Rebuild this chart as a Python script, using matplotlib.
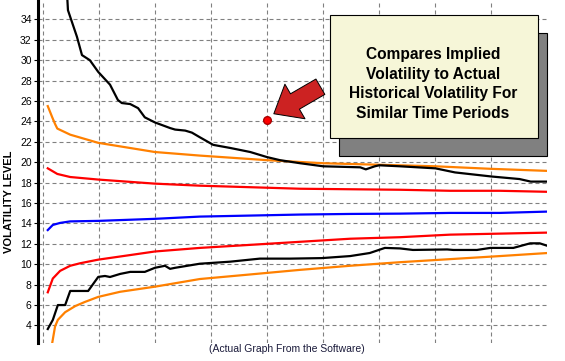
import matplotlib
matplotlib.use("Agg")
import matplotlib.pyplot as plt
from matplotlib.patches import Rectangle

# x positions are in "grid units" (one unit per vertical dashed grid line)
hv_hi_x = [0.44, 0.45, 0.61, 0.70, 0.84, 0.99, 1.20, 1.34, 1.41, 1.56, 1.70, 1.82, 2.00, 2.27, 2.36,
           2.54, 2.66, 2.80, 3.04, 3.34, 3.70, 4.00, 4.23, 4.59, 5.00, 5.66, 5.76, 5.92, 6.00, 6.37,
           7.00, 7.35, 8.00, 8.50, 8.70, 9.00]
hv_hi_y = [35.9, 34.9, 32.3, 30.5, 30.0, 28.85, 27.6, 26.1, 25.8, 25.7, 25.3, 24.4, 23.9, 23.35, 23.2,
           23.1, 22.9, 22.45, 21.7, 21.4, 21.0, 20.5, 20.2, 19.9, 19.6, 19.5, 19.3, 19.6, 19.7, 19.6,
           19.4, 19.0, 18.6, 18.35, 18.1, 18.1]

hv_lo_x = [0.09, 0.18, 0.27, 0.40, 0.49, 0.81, 0.99, 1.11, 1.20, 1.38, 1.56, 1.82, 2.00, 2.18, 2.27,
           2.36, 2.80, 3.34, 3.87, 4.41, 4.97, 5.48, 5.83, 6.10, 6.37, 6.60, 7.21, 7.32, 7.74, 7.98,
           8.39, 8.69, 8.86, 9.00]
hv_lo_y = [3.65, 4.54, 6.0, 6.0, 7.38, 7.38, 8.76, 8.85, 8.75, 9.05, 9.25, 9.25, 9.65, 9.85, 9.55,
           9.65, 10.05, 10.25, 10.55, 10.55, 10.6, 10.8, 11.1, 11.6, 11.55, 11.4, 11.45, 11.4, 11.4, 11.6,
           11.6, 12.05, 12.05, 11.8]

or_hi_x = [0.09, 0.17, 0.22, 0.26, 0.49, 0.99, 2.00, 2.80, 4.00, 5.00, 6.00, 7.00, 8.00, 9.00]
or_hi_y = [25.5, 24.4, 23.75, 23.3, 22.7, 21.9, 21.0, 20.65, 20.2, 19.9, 19.75, 19.6, 19.35, 19.15]

or_lo_x = [0.17, 0.22, 0.27, 0.40, 0.58, 0.75, 0.99, 1.38, 2.00, 2.80, 3.70, 4.59, 5.48, 6.37, 7.26,
           8.15, 9.00]
or_lo_y = [2.3, 3.9, 4.55, 5.3, 5.9, 6.3, 6.8, 7.3, 7.8, 8.55, 9.0, 9.45, 9.85, 10.2, 10.5,
           10.8, 11.1]

red_hi_x = [0.09, 0.26, 0.49, 0.99, 2.00, 2.80, 3.70, 4.59, 6.37, 7.26, 8.15, 9.00]
red_hi_y = [19.4, 18.85, 18.55, 18.3, 17.9, 17.7, 17.55, 17.4, 17.3, 17.2, 17.2, 17.1]

red_lo_x = [0.09, 0.18, 0.31, 0.49, 0.67, 0.99, 1.56, 2.00, 2.80, 3.70, 4.59, 5.48, 6.37, 7.26,
            8.15, 9.00]
red_lo_y = [7.25, 8.6, 9.35, 9.85, 10.1, 10.45, 10.9, 11.25, 11.6, 11.9, 12.2, 12.5, 12.65, 12.9,
            13.0, 13.1]

blue_x = [0.09, 0.18, 0.31, 0.49, 0.99, 2.00, 2.80, 3.70, 4.59, 5.48, 6.37, 7.26, 8.15, 9.00]
blue_y = [13.35, 13.85, 14.05, 14.2, 14.25, 14.45, 14.67, 14.77, 14.87, 14.93, 14.96, 15.03, 15.03, 15.16]

dot_x, dot_y = [4.0], [24.1]

y_ticks = list(range(4, 35, 2))
note = "Compares Implied\nVolatility to Actual\nHistorical Volatility For\nSimilar Time Periods"
caption = "(Actual Graph From the Software)"

plt.rcParams["font.family"] = ["Liberation Sans", "DejaVu Sans"]

fig = plt.figure(figsize=(5.65, 3.61), dpi=100)
ax = fig.add_axes([38 / 565, 18 / 361, 509 / 565, 343 / 361])

ax.plot(or_hi_x, or_hi_y, color="#ff8000", lw=1.6, zorder=3)
ax.plot(or_lo_x, or_lo_y, color="#ff8000", lw=1.6, zorder=3)
ax.plot(red_hi_x, red_hi_y, color="#ff0000", lw=1.6, zorder=3)
ax.plot(red_lo_x, red_lo_y, color="#ff0000", lw=1.6, zorder=3)
ax.plot(blue_x, blue_y, color="#0000ff", lw=1.6, zorder=3)
ax.plot(hv_hi_x, hv_hi_y, color="black", lw=1.6, zorder=4)
ax.plot(hv_lo_x, hv_lo_y, color="black", lw=1.6, zorder=4)

ax.plot(dot_x, dot_y, "o", color="#ff0000", mec="#aa0000", ms=5.5, zorder=5)
ax.annotate("", xy=(4.12, 24.75), xytext=(4.95, 27.4),
            arrowprops=dict(arrowstyle="simple,head_length=1.1,head_width=1.8,tail_width=0.8",
                            fc="#cc2222", ec="black", lw=0.7, mutation_scale=16,
                            shrinkA=0, shrinkB=0), zorder=6)

ax.set_xlim(-0.084, 8.99)
ax.set_ylim(2.28, 35.9)
ax.set_yticks(y_ticks)
ax.set_xticks(range(0, 9))
ax.tick_params(axis="x", length=0, labelbottom=False)
ax.tick_params(axis="y", labelsize=7.5, length=3, width=0.8, pad=1.5, colors="black")
ax.grid(True, color="#808080", lw=0.8, linestyle=(0, (3.6, 2.7)), zorder=1)
for s in ["top", "right", "bottom"]:
    ax.spines[s].set_visible(False)
ax.spines["left"].set_linewidth(2.2)

fig.text(9 / 565, 1 - 202 / 361, "VOLATILITY LEVEL", rotation=90, fontsize=8,
         fontweight="bold", ha="center", va="center")

# note box with drop shadow
fig.add_artist(Rectangle((339 / 565, 1 - 156 / 361), 208 / 565, 123 / 361,
                         transform=fig.transFigure, fc="#808080", ec="black", lw=0.8, zorder=10))
fig.add_artist(Rectangle((330 / 565, 1 - 138 / 361), 208 / 565, 123 / 361,
                         transform=fig.transFigure, fc="#f6f6d8", ec="black", lw=0.8, zorder=11))
fig.text(433 / 565, 1 - 84 / 361, note, fontsize=11.2, fontweight="bold", ha="center",
         va="center", linespacing=1.38, zorder=12)

fig.text(287 / 565, 1 - 349 / 361, caption, fontsize=7.5, color="#1a1a3a",
         ha="center", va="center")

fig.savefig("out.png", dpi=100)
